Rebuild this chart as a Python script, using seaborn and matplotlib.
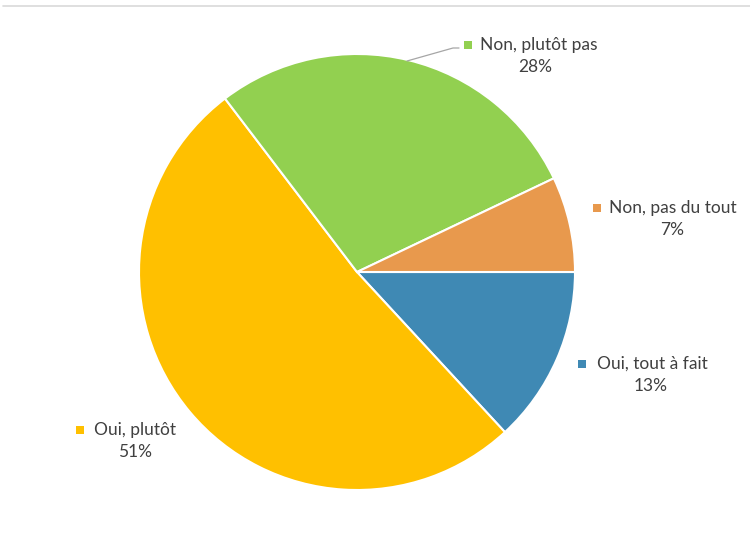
import matplotlib
matplotlib.use("Agg")
import matplotlib.pyplot as plt
from matplotlib.patches import Rectangle
from matplotlib.lines import Line2D
import seaborn as sns

sns.set_theme(style="white")
plt.rcParams["font.family"] = ["Lato", "DejaVu Sans"]

categories = ["Oui, tout à fait", "Oui, plutôt", "Non, plutôt pas", "Non, pas du tout"]
values = [13, 51, 28, 7]
colors = ["#3F89B4", "#FFC000", "#92D050", "#E8994D"]

W, H = 750, 533
fig = plt.figure(figsize=(W / 100, H / 100), dpi=100)
fig.patch.set_facecolor("white")

# pie centred at (357, 272) px with radius 218 px
cx, cy, r = 357, 272, 218
ax = fig.add_axes([(cx - r) / W, (H - cy - r) / H, 2 * r / W, 2 * r / H])
ax.pie(values, colors=colors, startangle=0, counterclock=False,
       wedgeprops=dict(edgecolor="white", linewidth=1.5))
ax.set_xlim(-1, 1)
ax.set_ylim(-1, 1)
ax.set_aspect("equal")
ax.axis("off")

# thin frame line along the top
fig.add_artist(Line2D([3 / W, 1], [1 - 6 / H, 1 - 6 / H], color="#D9D9D9", lw=1.2))

# label layout: (name centre x, percent centre x, first line y, square x)
label_pos = {
    "Non, plutôt pas": (539, 535, 45, 468),
    "Non, pas du tout": (673, 672, 208, 597),
    "Oui, tout à fait": (652, 651, 364, 582),
    "Oui, plutôt": (135, 135, 430, 80),
}
txt_color = "#404040"
for cat, val, col in zip(categories, values, colors):
    tx, px, ty, sx = label_pos[cat]
    fig.text(tx / W, 1 - ty / H, cat, ha="center", va="center",
             fontsize=12.5, color=txt_color)
    fig.text(px / W, 1 - (ty + 22) / H, f"{val}%", ha="center", va="center",
             fontsize=12.5, color=txt_color)
    s = 7.5
    fig.add_artist(Rectangle(((sx - s / 2) / W, 1 - (ty + s / 2) / H), s / W, s / H,
                             transform=fig.transFigure, facecolor=col, edgecolor="none"))

# leader line for the green slice label
fig.add_artist(Line2D([407 / W, 453 / W, 459 / W],
                      [1 - 61 / H, 1 - 48 / H, 1 - 48 / H],
                      color="#A6A6A6", lw=0.9))

fig.savefig("out.png", dpi=100, facecolor="white")
